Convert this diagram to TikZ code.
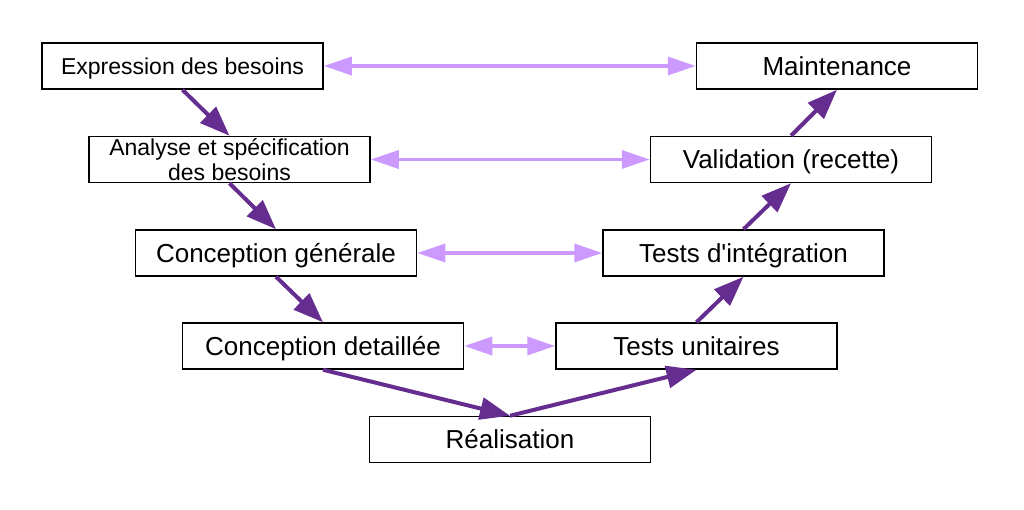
\documentclass[tikz,border=0pt]{standalone}
\usepackage{fontspec}
\newfontfamily\arialf{Liberation Sans}
\usetikzlibrary{arrows.meta}
\definecolor{darkp}{RGB}{102,45,145}
\definecolor{lightp}{RGB}{204,153,255}
\begin{document}
\begin{tikzpicture}[x=1pt,y=-1pt,
  box/.style={draw=black,line width=1.5pt,fill=white,minimum width=281pt,minimum height=46pt,inner sep=0pt,align=center},
  big/.style={font=\arialf\fontsize{26}{28}\selectfont,text height=18.6pt,text depth=0pt},
  small/.style={font=\arialf\fontsize{23}{25}\selectfont},
  one/.style={text height=16.5pt,text depth=0pt},
  flow/.style={draw=darkp,line width=4pt,-{Triangle[length=30pt,width=22pt]}},
  link/.style={draw=lightp,line width=3.5pt,{Triangle[length=28pt,width=18pt]}-{Triangle[length=28pt,width=18pt]}}]
\useasboundingbox (0,0) rectangle (1024,510);
\node[box,small,one] (E) at (182.5,66) {Expression des besoins};
\node[box,big] (M) at (837,66) {Maintenance};
\node[box,small] (A) at (229.5,159.5) {Analyse et spécification\\des besoins};
\node[box,big] (V) at (791,159.5) {Validation (recette)};
\node[box,big] (CG) at (276,253) {Conception générale};
\node[box,big] (TI) at (743.5,253) {Tests d'intégration};
\node[box,big] (CD) at (323,346) {Conception detaillée};
\node[box,big] (TU) at (696.5,346) {Tests unitaires};
\node[box,big] (R) at (510,439.5) {Réalisation};
\draw[flow] (E.south) -- (A.north);
\draw[flow] (A.south) -- (CG.north);
\draw[flow] (CG.south) -- (CD.north);
\draw[flow] (CD.south) -- (R.north);
\draw[flow] (R.north) -- (TU.south);
\draw[flow] (TU.north) -- (TI.south);
\draw[flow] (TI.north) -- (V.south);
\draw[flow] (V.north) -- (M.south);
\draw[link] (E.east) -- (M.west);
\draw[link] (A.east) -- (V.west);
\draw[link] (CG.east) -- (TI.west);
\draw[link] (CD.east) -- (TU.west);
\end{tikzpicture}
\end{document}
